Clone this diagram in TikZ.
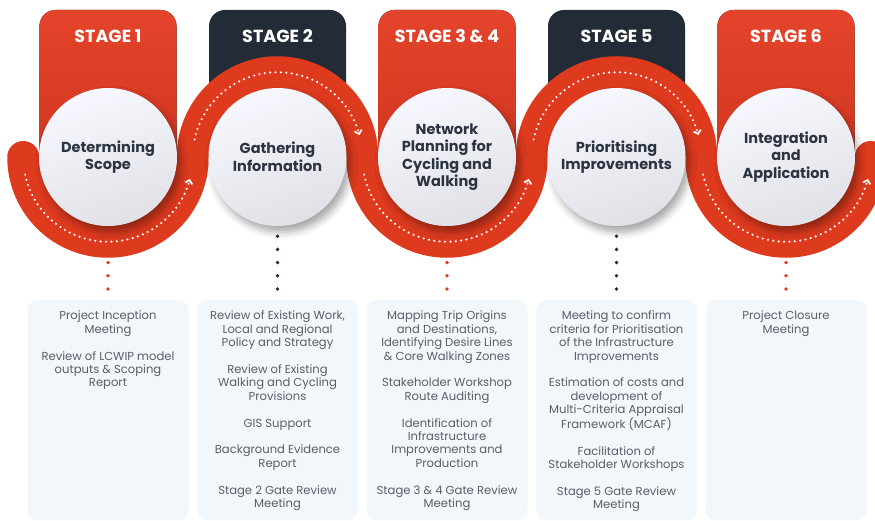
\documentclass[tikz,border=0pt]{standalone}
\usepackage{fontspec}
\setmainfont{Poppins}
\usetikzlibrary{arrows.meta,shadows.blur,backgrounds}

\definecolor{stagered}{HTML}{E23A20}
\definecolor{stagedark}{HTML}{232B36}
\definecolor{ribbonred}{HTML}{DE3A1E}
\definecolor{inktext}{HTML}{2B3440}
\definecolor{bodytext}{HTML}{5A5F66}
\definecolor{boxfill}{HTML}{F2F7FC}

\newcommand{\itemgap}{\\[13.4pt]}

\begin{document}
\begin{tikzpicture}[x=1pt, y=-1pt,
  tabred/.style = {rounded corners=16pt, top color=stagered!95!white, bottom color=stagered!92!black},
  tabdark/.style = {rounded corners=16pt, fill=stagedark},
  tablabel/.style = {text=white, font=\bfseries\fontsize{17.5}{20}\selectfont},
  stagecircle/.style = {circle, minimum size=138pt, inner sep=0pt, align=center,
    top color=white!97!blue, bottom color=blue!20!black!12, shading angle=20,
    text=inktext, font=\bfseries\fontsize{14.5}{17.5}\selectfont,
    blur shadow={shadow xshift=4pt, shadow yshift=-6pt, shadow blur radius=7pt, shadow opacity=35}},
  ribbonline/.style = {ribbonred, line width=32pt, line cap=round},
  ribbondots/.style = {white, line width=2.4pt, line cap=round, dash pattern=on 0pt off 5.4pt,
    -{Straight Barb[length=3.5pt, width=7.5pt, line width=1.7pt]}},
  infobox/.style = {rectangle, rounded corners=10pt, fill=boxfill, minimum width=161pt, minimum height=220pt},
  infotext/.style = {anchor=north, align=center, inner sep=0pt, text=bodytext, font=\fontsize{11.6}{13.4}\selectfont},
  linkdots/.style = {line width=3.8pt, line cap=round, dash pattern=on 0pt off 13.2pt,
    shorten <=10pt, shorten >=10pt}]

  \useasboundingbox (0,0) rectangle (875,521);

  % stage tabs
  \fill[tabred]  (39.5,10) rectangle (176.5,175);
  \fill[tabdark] (209,10) rectangle (346,150);
  \fill[tabred]  (378.5,10) rectangle (515.5,175);
  \fill[tabdark] (548,10) rectangle (685,150);
  \fill[tabred]  (717.5,10) rectangle (854.5,175);

  \node[tablabel] (s1) at (108,36) {STAGE 1};
  \node[tablabel] (s2) at (277.5,36) {STAGE 2};
  \node[tablabel] (s3) at (447,36) {STAGE 3 \& 4};
  \node[tablabel] (s5) at (616.5,36) {STAGE 5};
  \node[tablabel] (s6) at (786,36) {STAGE 6};

  % the red ribbon
  \draw[ribbonline] (23.25,157)
    arc[start angle=180, end angle=0, radius=84.75]
    arc[start angle=180, end angle=360, radius=84.75]
    arc[start angle=180, end angle=0, radius=84.75]
    arc[start angle=180, end angle=360, radius=84.75]
    arc[start angle=180, end angle=0, radius=84.75];

  % stage circles
  \node[stagecircle] (c1) at (108,157) {Determining\\Scope};
  \node[stagecircle] (c2) at (277.5,157) {Gathering\\Information};
  \node[stagecircle] (c3) at (447,157) {Network\\Planning for\\Cycling and\\Walking};
  \node[stagecircle] (c5) at (616.5,157) {Prioritising\\Improvements};
  \node[stagecircle] (c6) at (786,157) {Integration\\and\\Application};

  % dotted arrows on the ribbon
  \draw[ribbondots] ([shift={(168:84.75)}]c1.center) arc[start angle=168, end angle=15, radius=84.75];
  \draw[ribbondots] ([shift={(192:84.75)}]c2.center) arc[start angle=192, end angle=345, radius=84.75];
  \draw[ribbondots] ([shift={(168:84.75)}]c3.center) arc[start angle=168, end angle=15, radius=84.75];
  \draw[ribbondots] ([shift={(192:84.75)}]c5.center) arc[start angle=192, end angle=345, radius=84.75];
  \draw[ribbondots] ([shift={(168:84.75)}]c6.center) arc[start angle=168, end angle=15, radius=84.75];

  % task boxes
  \node[infobox] (b1) at (108,410) {};
  \node[infobox] (b2) at (277.5,410) {};
  \node[infobox] (b3) at (447,410) {};
  \node[infobox] (b5) at (616.5,410) {};
  \node[infobox] (b6) at (786,410) {};

  \node[infotext] (t1) at ([yshift=-11pt]b1.north) {Project Inception\\Meeting\itemgap
    Review of LCWIP model\\outputs \& Scoping\\Report};
  \node[infotext] (t2) at ([yshift=-11pt]b2.north) {Review of Existing Work,\\Local and Regional\\Policy and Strategy\itemgap
    Review of Existing\\Walking and Cycling\\Provisions\itemgap
    GIS Support\itemgap
    Background Evidence\\Report\itemgap
    Stage 2 Gate Review\\Meeting};
  \node[infotext] (t3) at ([yshift=-11pt]b3.north) {Mapping Trip Origins\\and Destinations,\\Identifying Desire Lines\\\& Core Walking Zones\itemgap
    Stakeholder Workshop\\Route Auditing\itemgap
    Identification of\\Infrastructure\\Improvements and\\Production\itemgap
    Stage 3 \& 4 Gate Review\\Meeting};
  \node[infotext] (t5) at ([yshift=-11pt]b5.north) {Meeting to confirm\\criteria for Prioritisation\\of the Infrastructure\\Improvements\itemgap
    Estimation of costs and\\development of\\Multi-Criteria Appraisal\\Framework (MCAF)\itemgap
    Facilitation of\\Stakeholder Workshops\itemgap
    Stage 5 Gate Review\\Meeting};
  \node[infotext] (t6) at ([yshift=-11pt]b6.north) {Project Closure\\Meeting};

  % links from circles to boxes
  \begin{scope}[on background layer]
    \draw[linkdots, stagered]  (c1.south) -- (b1.north);
    \draw[linkdots, stagedark] (c2.south) -- (b2.north);
    \draw[linkdots, stagered]  (c3.south) -- (b3.north);
    \draw[linkdots, stagedark] (c5.south) -- (b5.north);
    \draw[linkdots, stagered]  (c6.south) -- (b6.north);
  \end{scope}
\end{tikzpicture}
\end{document}
